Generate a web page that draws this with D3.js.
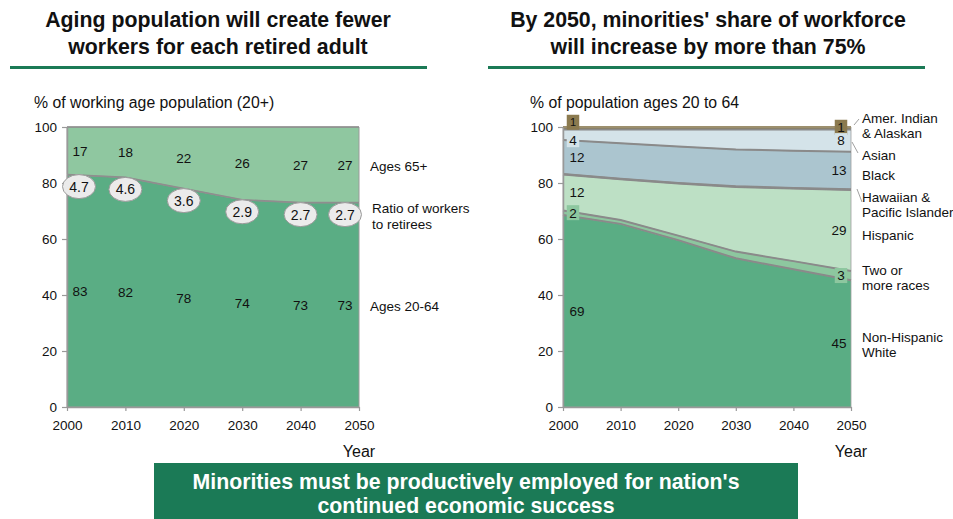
<!DOCTYPE html>
<html><head><meta charset="utf-8">
<script src="https://cdn.jsdelivr.net/npm/d3@7/dist/d3.min.js"></script>
<style>
body{margin:0;background:#fff;}
svg{display:block;font-family:Arial,"Liberation Sans",sans-serif;}
</style></head>
<body><svg id="c" width="953" height="519"></svg>
<script>
// ---------- data ----------
const years = [2000, 2010, 2020, 2030, 2040, 2050];
const yTicks = [0, 20, 40, 60, 80, 100];
// left chart
const ages2064 = [83, 82, 78, 74, 73, 73];
const ages65 = [17, 18, 22, 26, 27, 27];
const ratio = ["4.7", "4.6", "3.6", "2.9", "2.7", "2.7"];
// right chart (stacked bottom to top)
const raceKeys = ["white", "two", "hispanic", "hawaiian", "black", "asian", "amerind"];
const white    = [68.6, 65.4, 59.6, 53.1, 49.2, 45.3];
const two      = [1.6, 1.4, 1.6, 2.4, 2.9, 3.3];
const hispanic = [12.8, 14.5, 18.6, 23.1, 25.9, 28.9];
const hawaiian = [0.3, 0.3, 0.3, 0.3, 0.3, 0.3];
const black    = [12.1, 12.6, 12.9, 13.1, 13.2, 13.4];
const asian    = [3.7, 4.9, 6.1, 7.1, 7.6, 7.9];
const amerind  = [0.9, 0.9, 0.9, 0.9, 0.9, 0.9];
const labels2000 = {amerind: "1", asian: "4", black: "12", hispanic: "12", two: "2", white: "69"};
const labels2050 = {amerind: "1", asian: "8", black: "13", hispanic: "29", two: "3", white: "45"};
const raceNames = {
  amerind: ["Amer. Indian", "& Alaskan"], asian: ["Asian"], black: ["Black"],
  hawaiian: ["Hawaiian &", "Pacific Islander"], hispanic: ["Hispanic"],
  two: ["Two or", "more races"], white: ["Non-Hispanic", "White"]
};

const svg = d3.select("#c");
const GREEN_DARK = "#5aad84", GREEN_LIGHT = "#8fc7a0", RULE = "#1b7a56";
const raceColors = {white: "#5aad84", two: "#8dc79f", hispanic: "#bde0c5", hawaiian: "#bde0c5",
  black: "#abc5cf", asian: "#d4e3e9", amerind: "#8b7a4f"};
const labelBoxes = {amerind: "#8b7a4f", two: "#8dc79f", asian: "#d4e3e9"};

// ---------- titles ----------
function title(cx, lines) {
  lines.forEach((t, i) => svg.append("text").attr("x", cx).attr("y", 27 + i * 27)
    .attr("text-anchor", "middle").attr("font-size", 21.3).attr("font-weight", "bold").attr("fill", "#111").text(t));
}
title(218, ["Aging population will create fewer", "workers for each retired adult"]);
title(708, ["By 2050, minorities' share of workforce", "will increase by more than 75%"]);
svg.append("rect").attr("x", 10).attr("y", 66).attr("width", 417).attr("height", 3).attr("fill", RULE);
svg.append("rect").attr("x", 488).attr("y", 66).attr("width", 437).attr("height", 3).attr("fill", RULE);
svg.append("text").attr("x", 34).attr("y", 108).attr("font-size", 15.8).attr("fill", "#111").text("% of working age population (20+)");
svg.append("text").attr("x", 530).attr("y", 108).attr("font-size", 15.8).attr("fill", "#111").text("% of population ages 20 to 64");

const y = d3.scaleLinear().domain([0, 100]).range([407, 127]);

function axes(x) {
  const gx = svg.append("g").attr("transform", "translate(0,407)")
    .call(d3.axisBottom(x).tickValues(years).tickFormat(d3.format("d")).tickSize(4).tickSizeOuter(0));
  const gy = svg.append("g").attr("transform", `translate(${x.range()[0]},0)`)
    .call(d3.axisLeft(y).tickValues(yTicks).tickSize(5).tickSizeOuter(0));
  [gx, gy].forEach(g => {
    g.select(".domain").attr("stroke", "#999").attr("stroke-width", 1.5);
    g.selectAll(".tick line").attr("stroke", "#999").attr("stroke-width", 1.2);
    g.selectAll("text").attr("font-size", 13.5).attr("fill", "#111").attr("font-family", "Arial,'Liberation Sans',sans-serif");
  });
  gx.selectAll("text").attr("dy", "1.15em");
  gy.selectAll("text").attr("dx", "-2");
  svg.append("text").attr("x", x.range()[1]).attr("y", 457).attr("text-anchor", "middle")
    .attr("font-size", 16).attr("fill", "#111").text("Year");
}

// ---------- left chart ----------
const xL = d3.scaleLinear().domain([2000, 2050]).range([67, 359]);
const leftRows = years.map((yr, i) => ({year: yr, work: ages2064[i], old: ages65[i]}));
const leftStack = d3.stack().keys(["work", "old"])(leftRows);
const areaL = d3.area().x(d => xL(d.data.year)).y0(d => y(d[0])).y1(d => y(d[1]));
const lineL = d3.line().x(d => xL(d.data.year)).y(d => y(d[1]));
const leftCols = [GREEN_DARK, GREEN_LIGHT];
leftStack.forEach((s, k) => {
  svg.append("path").datum(s).attr("d", areaL).attr("fill", leftCols[k]).attr("stroke", "#9a9a9a").attr("stroke-width", 1);
});
leftStack.forEach(s => svg.append("path").datum(s).attr("d", lineL).attr("fill", "none").attr("stroke", "#8e8e8e").attr("stroke-width", 1.6));
axes(xL);

function edgeShift(i, n, a, b) { return i === 0 ? a : (i === n - 1 ? b : 0); }
leftRows.forEach((r, i) => {
  const xx = xL(r.year) + edgeShift(i, years.length, 13, -14);
  svg.append("text").attr("x", xx).attr("y", y(r.work + r.old / 2)).attr("dy", "0.35em")
    .attr("text-anchor", "middle").attr("font-size", 13.5).attr("fill", "#111").text(r.old);
  svg.append("text").attr("x", xx).attr("y", y(r.work / 2)).attr("dy", "0.35em")
    .attr("text-anchor", "middle").attr("font-size", 13.5).attr("fill", "#111").text(r.work);
  const ex = xL(r.year) + edgeShift(i, years.length, 12, -14);
  const ey = y(r.work) + 12;
  svg.append("ellipse").attr("cx", ex).attr("cy", ey).attr("rx", 16.5).attr("ry", 12)
    .attr("fill", "#ebebeb").attr("stroke", "#9a9a9a").attr("stroke-width", 1);
  svg.append("text").attr("x", ex).attr("y", ey).attr("dy", "0.36em").attr("text-anchor", "middle")
    .attr("font-size", 14).attr("fill", "#111").text(ratio[i]);
});
function multiText(x0, yc, lines, size, lh) {
  const t = svg.append("text").attr("font-size", size).attr("fill", "#111");
  lines.forEach((l, j) => t.append("tspan").attr("x", x0)
    .attr("y", yc - (lines.length - 1) * lh / 2 + j * lh).attr("dy", "0.35em").text(l));
}
const lastL = leftRows[leftRows.length - 1];
multiText(370, y(lastL.work + lastL.old / 2) + 1, ["Ages 65+"], 13.5, 15);
multiText(372, y(lastL.work) + 14, ["Ratio of workers", "to retirees"], 13.5, 16);
multiText(370, y(lastL.work / 2) + 1, ["Ages 20-64"], 13.5, 15);

// ---------- right chart ----------
const xR = d3.scaleLinear().domain([2000, 2050]).range([563, 851]);
const series = {white, two, hispanic, hawaiian, black, asian, amerind};
const rightRows = years.map((yr, i) => {
  const o = {year: yr};
  raceKeys.forEach(k => o[k] = series[k][i]);
  return o;
});
const rightStack = d3.stack().keys(raceKeys)(rightRows);
const areaR = d3.area().x(d => xR(d.data.year)).y0(d => y(d[0])).y1(d => y(d[1]));
const lineR = d3.line().x(d => xR(d.data.year)).y(d => y(d[1]));
rightStack.forEach(s => {
  svg.append("path").datum(s).attr("d", areaR).attr("fill", raceColors[s.key]).attr("stroke", "#a0a0a0").attr("stroke-width", 0.8);
});
rightStack.forEach(s => {
  if (s.key === "amerind") return;
  svg.append("path").datum(s).attr("d", lineR).attr("fill", "none").attr("stroke", "#8a8a8a")
    .attr("stroke-width", s.key === "hawaiian" ? 1.6 : 2);
});
svg.append("path").datum(rightStack[rightStack.length - 1]).attr("d", lineR).attr("fill", "none")
  .attr("stroke", "#9c8f6e").attr("stroke-width", 2);
axes(xR);

function rLabel(stackIdx, i, text, xx, yOff, size) {
  const s = rightStack[stackIdx], d = s[i];
  const yc = y((d[0] + d[1]) / 2) + (yOff || 0);
  const key = s.key;
  const w = text.length * 7.5 + 5;
  if (labelBoxes[key]) {
    svg.append("rect").attr("x", xx - w / 2).attr("y", yc - 7.5).attr("width", w).attr("height", 15)
      .attr("fill", labelBoxes[key]);
  }
  svg.append("text").attr("x", xx).attr("y", yc).attr("dy", "0.36em").attr("text-anchor", "middle")
    .attr("font-size", size || 13.5).attr("fill", "#111").text(text);
}
// order: top first so lower boxes may overlap
const order = [6, 5, 4, 2, 1, 0];
order.forEach(idx => {
  const k = raceKeys[idx];
  const off0 = k === "amerind" ? -6 : (k === "asian" ? 5 : 0);
  rLabel(idx, 0, labels2000[k], xR(2000) + (labels2000[k].length > 1 ? 14 : 10), off0, k === "amerind" ? 11 : 13.5);
  rLabel(idx, years.length - 1, labels2050[k], xR(2050) - (labels2050[k].length > 1 ? 12 : 10), k === "amerind" ? -1 : 0);
});

// legend on right
const lx = 862;
const legendY = {amerind: 126, asian: 155, black: 175, hawaiian: 205, hispanic: 235, two: 278, white: 345};
Object.keys(legendY).forEach(k => multiText(lx, legendY[k], raceNames[k], 13.5, 15.5));
const leader = [[854, 125, 859, 119], [852, 142, 858, 153], [857, 189, 862, 202]];
leader.forEach(l => svg.append("line").attr("x1", l[0]).attr("y1", l[1]).attr("x2", l[2]).attr("y2", l[3])
  .attr("stroke", "#888").attr("stroke-width", 0.8));

// ---------- bottom banner ----------
svg.append("rect").attr("x", 154).attr("y", 463).attr("width", 644).attr("height", 56).attr("fill", "#1b7a56");
["Minorities must be productively employed for nation's", "continued economic success"].forEach((t, i) =>
  svg.append("text").attr("x", 466).attr("y", 489 + i * 24).attr("text-anchor", "middle")
    .attr("font-size", 21.3).attr("font-weight", "bold").attr("fill", "#fff").text(t));
</script></body></html>
